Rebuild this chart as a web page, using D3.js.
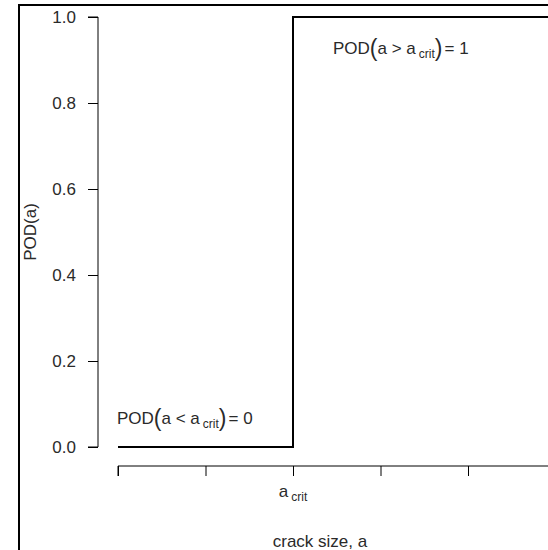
<!DOCTYPE html>
<html>
<head>
<meta charset="utf-8">
<script src="https://cdn.jsdelivr.net/npm/d3@7"></script>
<style>
  body { margin: 0; background: #fff; }
  svg { display: block; font-family: "Liberation Sans", Arial, sans-serif; }
</style>
</head>
<body>
<div id="chart"></div>
<script>
// step function POD(a): 0 below a_crit, 1 above
const xTicks = [0, 1, 2, 3, 4, 5]
const aCrit = 2
const stepX = [0, 2, 2, 5.2]
const stepY = [0, 0, 1, 1]
const yTicks = [0, 0.2, 0.4, 0.6, 0.8, 1.0]

const width = 548, height = 550
const fs = 17, ink = "#2a2a2a"

const svg = d3.select("#chart").append("svg")
  .attr("width", width).attr("height", height)

// outer frame
svg.append("path")
  .attr("d", `M19,${height + 5}V5H${width + 5}`)
  .attr("fill", "none").attr("stroke", "#000").attr("stroke-width", 2)

const x = d3.scaleLinear().domain([0, 5]).range([118, 555.5])
const y = d3.scaleLinear().domain([0, 1]).range([447, 17])

// y axis
const yAxis = svg.append("g").attr("transform", "translate(98,0)")
  .call(d3.axisLeft(y).tickValues(yTicks).tickFormat(d3.format(".1f")).tickSize(10).tickPadding(12))
yAxis.select(".domain").attr("d", `M-10,${y(1)}H0V${y(0)}H-10`)
yAxis.selectAll("text").attr("font-size", fs).attr("fill", ink).attr("font-family", "Liberation Sans, Arial, sans-serif")

// x axis
const xAxis = svg.append("g").attr("transform", "translate(0,466)")
  .call(d3.axisBottom(x).tickValues(xTicks).tickFormat("").tickSize(10))
xAxis.select(".domain").attr("d", `M${x(0)},10V0H${x(5.2)}`)

// a_crit label
const acrit = svg.append("text").attr("x", x(aCrit)).attr("y", 497)
  .attr("text-anchor", "middle").attr("font-size", fs).attr("fill", ink)
acrit.append("tspan").text("a")
acrit.append("tspan").attr("dx", 3).attr("dy", 4).attr("font-size", 12).text("crit")

// axis titles
svg.append("text").attr("x", 320).attr("y", 547)
  .attr("text-anchor", "middle").attr("font-size", fs).attr("fill", ink)
  .text("crack size, a")
svg.append("text").attr("transform", `translate(36,${y(0.5)}) rotate(-90)`)
  .attr("text-anchor", "middle").attr("font-size", fs).attr("fill", ink)
  .text("POD(a)")

// step line
const line = d3.line().x(d => x(d[0])).y(d => y(d[1]))
svg.append("path").datum(d3.zip(stepX, stepY))
  .attr("d", line).attr("fill", "none").attr("stroke", "#000").attr("stroke-width", 2)

// annotations
function podLabel(px, py, op, val) {
  const t = svg.append("text").attr("x", px).attr("y", py).attr("font-size", fs).attr("fill", ink)
  t.append("tspan").text("POD")
  t.append("tspan").attr("font-size", 23).attr("dy", 2).text("(")
  t.append("tspan").attr("dy", -2).text(`a ${op} a`)
  t.append("tspan").attr("dx", 3).attr("dy", 4).attr("font-size", 12).text("crit")
  t.append("tspan").attr("font-size", 23).attr("dy", -2).text(")")
  t.append("tspan").attr("dx", 2).attr("dy", -2).text(`= ${val}`)
}
podLabel(333, 54, ">", 1)
podLabel(117, 424, "<", 0)
</script>
</body>
</html>
